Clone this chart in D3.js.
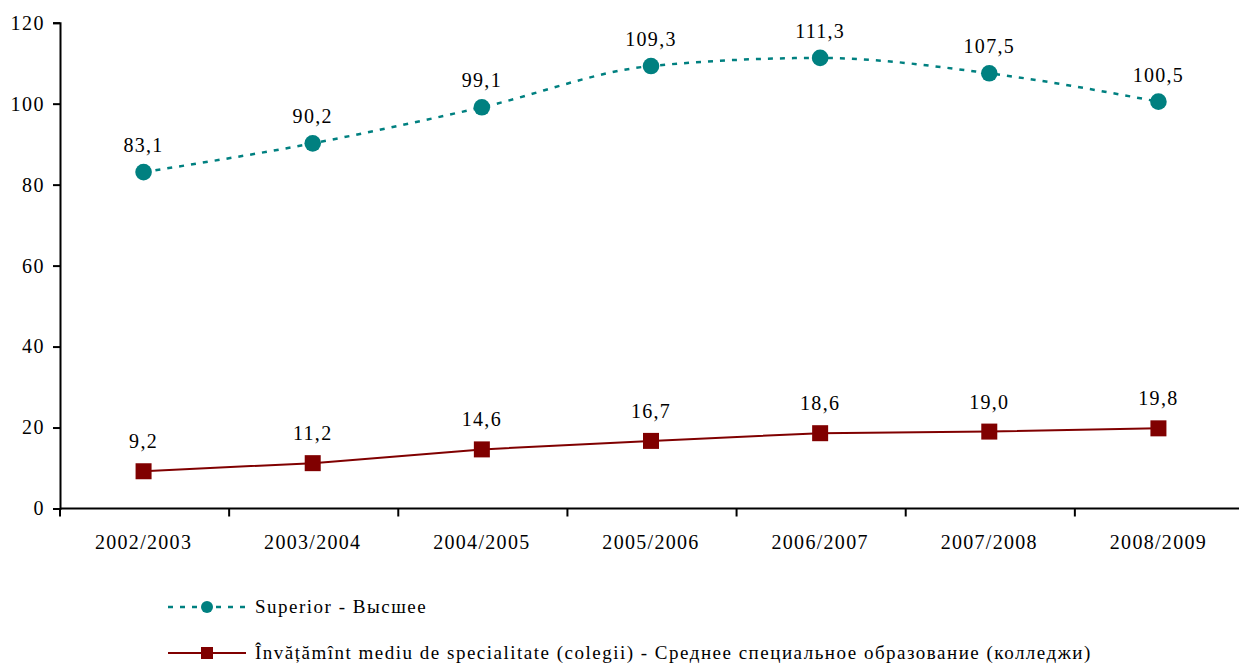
<!DOCTYPE html>
<html>
<head>
<meta charset="utf-8">
<script src="https://cdn.jsdelivr.net/npm/d3@7"></script>
<style>
  body { margin: 0; background: #fff; }
</style>
</head>
<body>
<div id="chart"></div>
<script>
// data
const years = ["2002/2003", "2003/2004", "2004/2005", "2005/2006", "2006/2007", "2007/2008", "2008/2009"];
const superior = [83.1, 90.2, 99.1, 109.3, 111.3, 107.5, 100.5];
const colegii = [9.2, 11.2, 14.6, 16.7, 18.6, 19.0, 19.8];
const yTicks = [0, 20, 40, 60, 80, 100, 120];
const seriesNames = [
  "Superior - Высшее",
  "Învățămînt mediu de specialitate (colegii) - Среднее специальное образование (колледжи)"
];

const width = 1239, height = 666;
const FONT = "Liberation Serif";
const fmt = v => v.toFixed(1).replace(".", ",");

const svg = d3.select("#chart").append("svg")
  .attr("width", width).attr("height", height);

// scales
const x = d3.scaleBand().domain(years).range([60, 1244]);
const y = d3.scaleLinear().domain([0, 120]).range([508.5, 22.7]);
const cx = d => x(d) + x.bandwidth() / 2 - 1;

// y axis
const yAxis = svg.append("g").attr("transform", "translate(60,0)")
  .call(d3.axisLeft(y).tickValues(yTicks).tickSize(7).tickPadding(8));
yAxis.select(".domain").attr("stroke", "#000").attr("stroke-width", 2);
yAxis.selectAll(".tick line").attr("stroke-width", 2);
yAxis.selectAll("text").attr("font-size", 20).style("font-family", FONT)
  .style("letter-spacing", "1.5px").attr("fill", "#000");

// x axis, ticks on band edges
const xg = svg.append("g").attr("transform", `translate(0,${y(0)})`);
xg.append("line").attr("x1", 60).attr("x2", 1244).attr("stroke", "#000").attr("stroke-width", 2);
const edges = years.map(d => x(d)).concat([x(years[years.length - 1]) + x.bandwidth()]);
xg.selectAll("line.tk").data(edges).join("line").attr("class", "tk")
  .attr("x1", d => d).attr("x2", d => d).attr("y1", 0).attr("y2", 8)
  .attr("stroke", "#000").attr("stroke-width", 2);
xg.selectAll("text").data(years).join("text")
  .attr("x", d => cx(d)).attr("y", 40)
  .attr("text-anchor", "middle").attr("font-size", 20)
  .style("font-family", FONT).style("letter-spacing", "1.3px")
  .text(d => d);

const smooth = d3.line().x((d, i) => cx(years[i])).y(d => y(d)).curve(d3.curveMonotoneX);
const straight = d3.line().x((d, i) => cx(years[i])).y(d => y(d));

// superior series
svg.append("path").datum(superior)
  .attr("d", smooth).attr("fill", "none")
  .attr("stroke", "#008080").attr("stroke-width", 2.5)
  .attr("stroke-dasharray", "5,7");
svg.selectAll("circle.sup").data(superior).join("circle").attr("class", "sup")
  .attr("cx", (d, i) => cx(years[i])).attr("cy", d => y(d)).attr("r", 8.3)
  .attr("fill", "#008080");

// colegii series
svg.append("path").datum(colegii)
  .attr("d", straight).attr("fill", "none")
  .attr("stroke", "#800000").attr("stroke-width", 2);
svg.selectAll("rect.col").data(colegii).join("rect").attr("class", "col")
  .attr("x", (d, i) => cx(years[i]) - 8).attr("y", d => y(d) - 8)
  .attr("width", 16).attr("height", 16).attr("fill", "#800000");

// labels
const labels = (data, cls, off) => svg.selectAll("text." + cls).data(data).join("text")
  .attr("class", cls)
  .attr("x", (d, i) => cx(years[i])).attr("y", d => y(d) - off)
  .attr("text-anchor", "middle").attr("font-size", 20)
  .style("font-family", FONT).style("letter-spacing", "1.3px")
  .text(fmt);
labels(superior, "lsup", 20);
labels(colegii, "lcol", 23);

// legend
const leg = svg.append("g");
const ly = [607, 653];
leg.append("line").attr("x1", 168).attr("x2", 246).attr("y1", ly[0]).attr("y2", ly[0])
  .attr("stroke", "#008080").attr("stroke-width", 2.5).attr("stroke-dasharray", "5,7");
leg.append("circle").attr("cx", 207).attr("cy", ly[0]).attr("r", 6).attr("fill", "#008080");
leg.append("line").attr("x1", 168).attr("x2", 246).attr("y1", ly[1]).attr("y2", ly[1])
  .attr("stroke", "#800000").attr("stroke-width", 2);
leg.append("rect").attr("x", 201).attr("y", ly[1] - 6).attr("width", 12).attr("height", 12).attr("fill", "#800000");
leg.selectAll("text").data(seriesNames).join("text")
  .attr("x", 255).attr("y", (d, i) => ly[i] + 6)
  .attr("font-size", 19).style("font-family", FONT).style("letter-spacing", "1.5px")
  .text(d => d);
</script>
</body>
</html>
